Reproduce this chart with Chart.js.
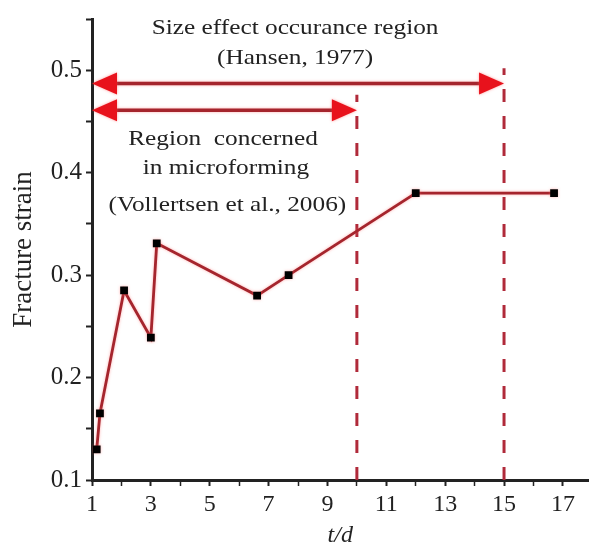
<!DOCTYPE html>
<html>
<head>
<meta charset="utf-8">
<script src="https://cdn.jsdelivr.net/npm/chart.js@4"></script>
<style>
  html, body { margin: 0; padding: 0; background: #fff; }
  #wrap { width: 594px; height: 550px; position: relative; }
</style>
</head>
<body>
<div id="wrap"><canvas id="strainChart"></canvas></div>
<script>
// measured points (t/d vs fracture strain)
const tdValues = [1.16, 1.27, 2.09, 3.0, 3.2, 6.61, 7.68, 12.0, 16.7];
const strainValues = [0.130, 0.165, 0.285, 0.239, 0.331, 0.280, 0.300, 0.380, 0.380];

// axis ticks
const xTickValues = [1, 2, 3, 4, 5, 6, 7, 8, 9, 10, 11, 12, 13, 14, 15, 16, 17];
const xTickLabels = ['1', '3', '5', '7', '9', '11', '13', '15', '17'];
const yTickValues = [0.1, 0.15, 0.2, 0.25, 0.3, 0.35, 0.4, 0.45, 0.5, 0.55];
const yTickLabels = ['0.1', '0.2', '0.3', '0.4', '0.5'];

// region arrows: [from, to] in t/d, at strain level
const hansenRange = [1, 15];
const hansenLevel = 0.487;
const vollertsenRange = [1, 10];
const vollertsenLevel = 0.461;

// dashed limits: x position, top strain
const limitX = [10, 15];
const limitTop = [0.476, 0.502];

// annotation text anchored in data units
const noteLines = ['Size effect occurance region', '(Hansen, 1977)',
    'Region  concerned', 'in microforming', '(Vollertsen et al., 2006)'];
const noteX = [7.9, 7.9, 5.45, 5.55, 5.6];
const noteY = [0.541, 0.512, 0.433, 0.404, 0.368];

const serif = "'Liberation Serif', 'Times New Roman', serif";
const darkRed = '#a5252d';
const brightRed = '#e8121c';

// arrowheads + texts
const extrasPlugin = {
    id: 'extras',
    afterDatasetsDraw(chart) {
        const ctx = chart.ctx;
        const xs = chart.scales.x, ys = chart.scales.y;
        function head(xv, yv, dir) {
            const px = xs.getPixelForValue(xv), py = ys.getPixelForValue(yv);
            ctx.save();
            ctx.fillStyle = brightRed;
            ctx.shadowColor = 'rgba(255,90,90,0.6)';
            ctx.shadowBlur = 3;
            ctx.beginPath();
            ctx.moveTo(px, py);
            ctx.lineTo(px - dir * 25, py - 11);
            ctx.lineTo(px - dir * 25, py + 11);
            ctx.closePath();
            ctx.fill();
            ctx.restore();
        }
        head(hansenRange[0], hansenLevel, -1);
        head(hansenRange[1], hansenLevel, 1);
        head(vollertsenRange[0], vollertsenLevel, -1);
        head(vollertsenRange[1], vollertsenLevel, 1);

        ctx.save();
        ctx.fillStyle = '#222';
        ctx.textAlign = 'center';
        ctx.textBaseline = 'middle';
        ctx.font = '22px ' + serif;
        noteLines.forEach((t, i) => {
            const px = xs.getPixelForValue(noteX[i]);
            const py = ys.getPixelForValue(noteY[i]);
            ctx.save();
            ctx.translate(px, py);
            ctx.scale(1.15, 1);
            ctx.fillText(t, 0, 0);
            ctx.restore();
        });
        ctx.restore();
    }
};

// soft pink halo on the red lines
const glowPlugin = {
    id: 'glow',
    beforeDatasetDraw(chart, args) {
        const ds = chart.data.datasets[args.index];
        chart.ctx.save();
        if (ds.glow) {
            chart.ctx.shadowColor = 'rgba(255,110,110,0.55)';
            chart.ctx.shadowBlur = 3;
        }
    },
    afterDatasetDraw(chart) {
        chart.ctx.restore();
    }
};

function lineSet(points, extra) {
    return Object.assign({
        data: points,
        borderColor: darkRed,
        borderWidth: 3,
        pointRadius: 0,
        fill: false,
        tension: 0,
        glow: true
    }, extra || {});
}

const datasets = [
    lineSet(tdValues.map((v, i) => ({ x: v, y: strainValues[i] })), {
        borderWidth: 2.8,
        pointStyle: 'rect',
        pointRadius: 5.5,
        pointBackgroundColor: '#000',
        pointBorderColor: '#000',
        pointBorderWidth: 0
    }),
    lineSet([{ x: hansenRange[0] + 0.5, y: hansenLevel }, { x: hansenRange[1] - 0.5, y: hansenLevel }], { borderWidth: 3.5 }),
    lineSet([{ x: vollertsenRange[0] + 0.5, y: vollertsenLevel }, { x: vollertsenRange[1] - 0.5, y: vollertsenLevel }], { borderWidth: 3.5 })
];
limitX.forEach((xv, i) => {
    datasets.push(lineSet([{ x: xv, y: 0.1 }, { x: xv, y: limitTop[i] }], {
        borderColor: '#b02a3a',
        borderDash: [13, 14],
        borderWidth: 3,
        glow: false
    }));
});

Chart.defaults.font.family = serif;
Chart.defaults.color = '#222';

new Chart(document.getElementById('strainChart'), {
    type: 'line',
    data: { datasets: datasets },
    options: {
        responsive: true,
        maintainAspectRatio: false,
        animation: false,
        layout: { padding: { top: 15, right: 0, left: 0, bottom: 0 } },
        plugins: { legend: { display: false }, tooltip: { enabled: false } },
        scales: {
            x: {
                type: 'linear',
                min: 1,
                max: 17.87,
                afterBuildTicks(scale) { scale.ticks = xTickValues.map(v => ({ value: v })); },
                afterFit(scale) { scale.height = 70; },
                ticks: {
                    autoSkip: false,
                    maxRotation: 0,
                    padding: 4,
                    font: { size: 24 },
                    color: '#222',
                    callback: v => xTickLabels.includes(String(v)) ? String(v) : ''
                },
                grid: {
                    drawOnChartArea: false,
                    drawTicks: true,
                    tickLength: 6,
                    tickColor: '#222',
                    tickWidth: ctx => xTickLabels.includes(String(ctx.tick && ctx.tick.value)) ? 2 : 1.5
                },
                border: { display: true, color: '#222', width: 3 },
                title: {
                    display: true,
                    text: 't/d',
                    font: { size: 24, style: 'italic' },
                    color: '#222',
                    padding: { top: 0, bottom: 0 }
                }
            },
            y: {
                type: 'linear',
                min: 0.1,
                max: 0.55,
                afterBuildTicks(scale) { scale.ticks = yTickValues.map(v => ({ value: v })); },
                afterFit(scale) { scale.width = 92; },
                ticks: {
                    autoSkip: false,
                    padding: 4,
                    font: { size: 25 },
                    color: '#222',
                    callback: v => {
                        const s = (Math.round(v * 100) / 100).toString();
                        return yTickLabels.includes(s) ? s : '';
                    }
                },
                grid: {
                    drawOnChartArea: false,
                    drawTicks: true,
                    tickLength: 6,
                    tickColor: '#222',
                    tickWidth: 2
                },
                border: { display: true, color: '#222', width: 3 },
                title: {
                    display: true,
                    text: 'Fracture strain',
                    font: { size: 27 },
                    color: '#222',
                    padding: { top: 8, bottom: 4 }
                }
            }
        }
    },
    plugins: [glowPlugin, extrasPlugin]
});
</script>
</body>
</html>
